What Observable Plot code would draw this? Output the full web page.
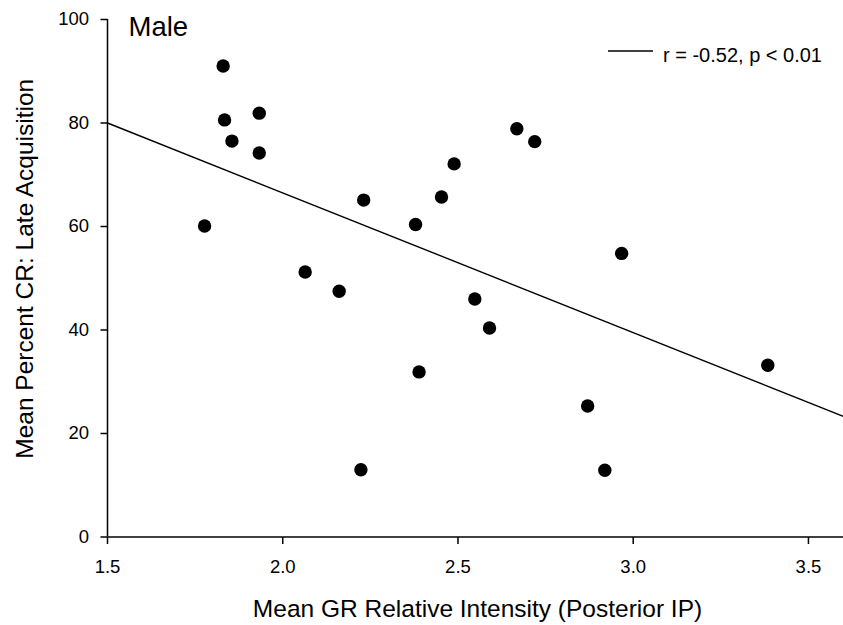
<!DOCTYPE html>
<html>
<head>
<meta charset="utf-8">
<script src="https://cdn.jsdelivr.net/npm/d3@7"></script>
<script src="https://cdn.jsdelivr.net/npm/@observablehq/plot@0.6"></script>
<style>
  html, body { margin: 0; padding: 0; background: #fff; }
  #wrap { position: relative; width: 843px; height: 625px; font-family: "Liberation Sans", Arial, sans-serif; }
  #legendLine { position: absolute; left: 608px; top: 50px; width: 45px; height: 2px; display: block; }
  #legendText { position: absolute; left: 663px; top: 44px; font-size: 20px; line-height: 23px; color: #000; white-space: nowrap; }
</style>
</head>
<body>
<div id="wrap"></div>
<script>
// ---- data ----
const panelTitle = "Male";
const xTitle = "Mean GR Relative Intensity (Posterior IP)";
const yTitle = "Mean Percent CR: Late Acquisition";
const legendLabel = "r = -0.52, p < 0.01";

const xDomain = [1.5, 3.6];
const yDomain = [0, 100];
const xTicks = [1.5, 2.0, 2.5, 3.0, 3.5];
const yTicks = [0, 20, 40, 60, 80, 100];

const grIntensity = [1.830, 1.834, 1.855, 1.933, 1.933, 1.777, 2.668, 2.719, 2.489, 2.231, 2.453,
                     2.379, 2.064, 2.161, 2.548, 2.590, 2.389, 2.223, 2.967, 3.384, 2.870, 2.919];
const percentCR  = [91.0, 80.6, 76.5, 81.9, 74.2, 60.1, 78.9, 76.4, 72.1, 65.1, 65.7,
                    60.4, 51.2, 47.5, 46.0, 40.4, 31.9, 13.0, 54.8, 33.2, 25.3, 12.9];

const fitX = [1.5, 3.6];
const fitY = [80.0, 23.3];

// ---- layout ----
const W = 843, H = 625, mL = 107, mR = 0, mT = 19, mB = 88.5;
const tickPx = 7;
const tickLenY = (yDomain[1] - yDomain[0]) / (H - mT - mB) * tickPx; // in y units
const tickLenX = (xDomain[1] - xDomain[0]) / (W - mL - mR) * tickPx; // in x units

// ---- build tables ----
const points = grIntensity.map((x, i) => ({x, y: percentCR[i]}));
const fit = fitX.map((x, i) => ({x, y: fitY[i]}));

const chart = Plot.plot({
  width: W,
  height: H,
  marginLeft: mL,
  marginRight: mR,
  marginTop: mT,
  marginBottom: mB,
  style: {fontFamily: '"Liberation Sans", Arial, sans-serif', fontSize: "18.5px", color: "#000", background: "#fff", overflow: "visible"},
  x: {domain: xDomain},
  y: {domain: yDomain},
  marks: [
    Plot.axisX({ticks: xTicks, tickSize: 0, tickPadding: 22.7, tickFormat: d3.format(".1f"), label: null, fontSize: 18.5}),
    Plot.axisY({ticks: yTicks, tickSize: 0, tickPadding: 18.4, tickFormat: d3.format("d"), label: null, fontSize: 18.5}),
    // outward tick marks
    Plot.link(xTicks, {x1: d => d, x2: d => d, y1: yDomain[0], y2: yDomain[0] - tickLenY, stroke: "#000", strokeWidth: 1.5}),
    Plot.link(yTicks, {y1: d => d, y2: d => d, x1: xDomain[0], x2: xDomain[0] - tickLenX, stroke: "#000", strokeWidth: 1.5}),
    // axis lines
    Plot.ruleX([xDomain[0]], {stroke: "#000", strokeWidth: 1.5}),
    Plot.ruleY([yDomain[0]], {stroke: "#000", strokeWidth: 1.5}),
    Plot.line(fit, {x: "x", y: "y", stroke: "#000", strokeWidth: 1.4}),
    Plot.dot(points, {x: "x", y: "y", r: 6.7, fill: "#000", stroke: "none"}),
    Plot.text([panelTitle], {frameAnchor: "top-left", textAnchor: "start", lineAnchor: "bottom", dx: 21, dy: 16, fontSize: 27.5, fill: "#000"}),
    Plot.text([xTitle], {frameAnchor: "bottom", textAnchor: "middle", lineAnchor: "bottom", dx: 2, dy: 80.2, fontSize: 24.5, fill: "#000"}),
    Plot.text([yTitle], {frameAnchor: "left", textAnchor: "middle", rotate: -90, lineAnchor: "bottom", dx: -75, dy: -9.5, fontSize: 24.5, fill: "#000"})
  ]
});

const wrap = document.getElementById("wrap");
wrap.appendChild(chart);

// legend overlay
const ns = "http://www.w3.org/2000/svg";
const lsvg = document.createElementNS(ns, "svg");
lsvg.setAttribute("id", "legendLine");
lsvg.setAttribute("width", "45");
lsvg.setAttribute("height", "2");
const ln = document.createElementNS(ns, "line");
ln.setAttribute("x1", "0"); ln.setAttribute("x2", "45");
ln.setAttribute("y1", "1"); ln.setAttribute("y2", "1");
ln.setAttribute("stroke", "#000"); ln.setAttribute("stroke-width", "1.4");
lsvg.appendChild(ln);
wrap.appendChild(lsvg);
const lt = document.createElement("div");
lt.id = "legendText";
lt.textContent = legendLabel;
wrap.appendChild(lt);
</script>
</body>
</html>
